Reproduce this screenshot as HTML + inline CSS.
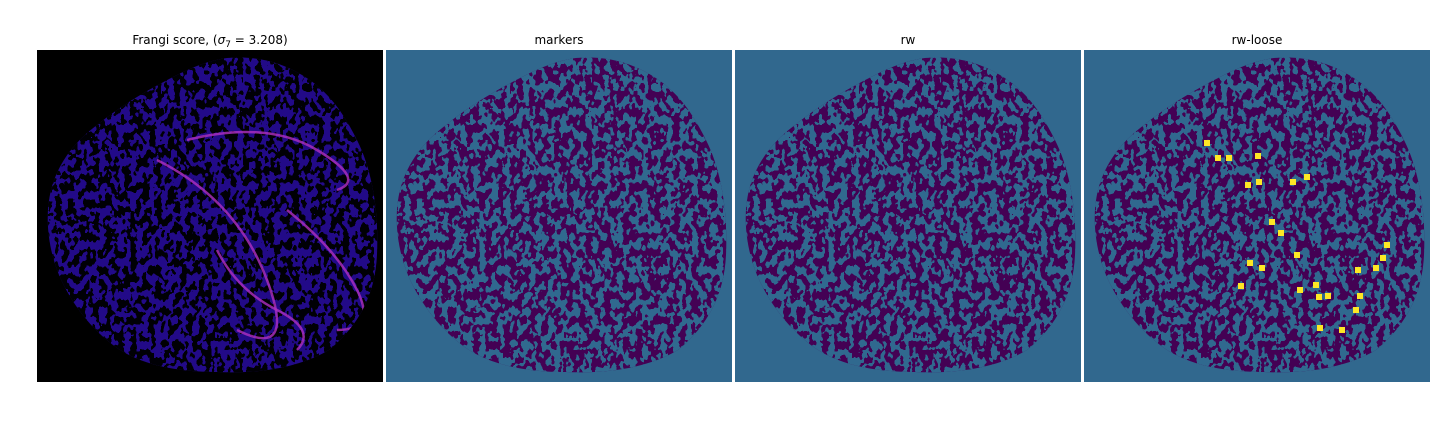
<!DOCTYPE html>
<html><head><meta charset="utf-8"><style>
body{margin:0;background:#fff;width:1440px;height:432px;overflow:hidden;font-family:"DejaVu Sans","Liberation Sans",sans-serif}
svg{display:block}
</style></head><body>
<svg width="1440" height="432">
<defs>
<filter id="spots" x="0" y="0" width="100%" height="100%" color-interpolation-filters="sRGB">
<feTurbulence type="fractalNoise" baseFrequency="0.16 0.12" numOctaves="2" seed="4" result="n"/>
<feColorMatrix in="n" type="matrix" values="0 0 0 0 0.19  0 0 0 0 0.41  0 0 0 0 0.56  14 0 0 0 -6.6"/>
<feComponentTransfer><feFuncA type="discrete" tableValues="0 1"/></feComponentTransfer>
</filter>
<filter id="spots1" x="0" y="0" width="100%" height="100%" color-interpolation-filters="sRGB">
<feTurbulence type="fractalNoise" baseFrequency="0.16 0.12" numOctaves="2" seed="4" result="n"/>
<feColorMatrix in="n" type="matrix" values="0 0 0 0 0.0  0 0 0 0 0.0  0 0 0 0 0.02  14 0 0 0 -6.6"/>
<feComponentTransfer><feFuncA type="discrete" tableValues="0 1"/></feComponentTransfer>
</filter>
<clipPath id="blob"><path d="M190,8 C215,6 240,10 265,25 C290,40 305,60 320,90 C335,120 342,160 340,205 C338,245 322,275 292,300 C262,318 220,324 180,322 C140,322 105,315 80,298 C55,280 35,255 22,225 C10,195 8,165 14,140 C22,110 40,90 60,75 C85,55 110,40 140,25 C160,15 175,10 190,8 Z"/></clipPath>
</defs>
<g id="panels"></g>
</svg>
<script>
const titles=["Frangi score, (σ","markers","rw","rw-loose"];
const panelX=[37,386,735,1084];
const looseX=[123,134,145,164,175,209,174,223,188,197,213,166,178,157,232,235,244,274,303,299,292,276,272,236,258,216];
const looseY=[93,108,108,135,132,132,106,127,172,183,205,213,218,236,235,247,246,220,195,208,218,246,260,278,280,240];
const ns="http://www.w3.org/2000/svg";
const root=document.getElementById('panels');
function mk(t,a,p){const e=document.createElementNS(ns,t);for(const k in a)e.setAttribute(k,a[k]);(p||root).appendChild(e);return e;}
panelX.forEach((px,i)=>{
  const g=mk('g',{transform:`translate(${px},50)`});
  
  
  mk('rect',{x:0,y:0,width:346,height:332,fill:i==0?'#000':'#31688e'},g);
  const b=mk('g',{'clip-path':'url(#blob)'},g);
  
  
  mk('rect',{x:0,y:0,width:346,height:332,fill:i==0?'#220a88':'#440154'},b);
  mk('rect',{x:0,y:0,width:346,height:332,filter:i==0?'url(#spots1)':'url(#spots)'},b);
  if(i==0){
    [[120,110,200,150,230,230,200,280],[150,90,230,70,280,100,300,140],[250,160,300,200,320,240,300,280],[180,200,200,240,240,260,260,300]].forEach(c=>{
      const v=mk('path',{d:`M${c[0]},${c[1]} Q${c[2]},${c[3]} ${c[4]},${c[5]} T${c[6]},${c[7]}`,stroke:'#b030c0',fill:'none','stroke-width':2.5,opacity:0.8},b);
      
      
    });
  }
  if(i==3){
    looseX.forEach((x,j)=>{
      const r=mk('rect',{x:x-3,y:looseY[j]-3,width:6,height:6,fill:'#fde725'},g);
      
      
    });
  }
  const t=mk('text',{x:px+173,y:44,'text-anchor':'middle','font-size':12,fill:'#000'});
  
  
  if(i==0){t.innerHTML='Frangi score, (<tspan font-style="italic">σ</tspan><tspan font-size="9" dy="3">7</tspan><tspan dy="-3"> = 3.208)</tspan>';}
  else t.textContent=titles[i];
});
</script>
</body></html>
